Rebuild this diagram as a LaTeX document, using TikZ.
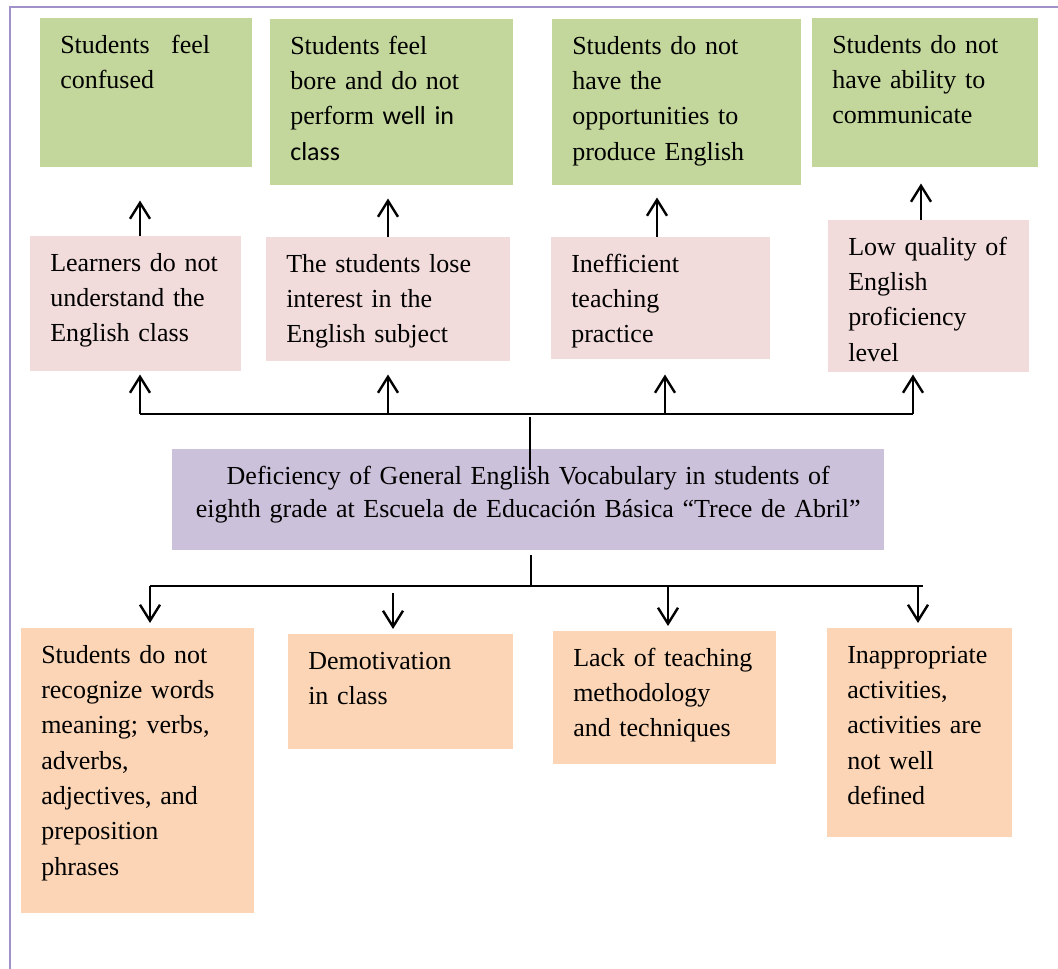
\documentclass[tikz,border=0pt]{standalone}
\usepackage{fontspec}
\setmainfont{Liberation Serif}
\newfontfamily\calibri{Carlito}
\usetikzlibrary{arrows.meta}
\definecolor{ccgreen}{RGB}{195,214,155}
\definecolor{ccpink}{RGB}{242,220,219}
\definecolor{ccpurple}{RGB}{204,193,218}
\definecolor{ccorange}{RGB}{251,213,181}
\definecolor{ccframe}{RGB}{160,146,200}

\begin{document}
\begin{tikzpicture}[x=0.75pt, y=-0.75pt]

  % Style des boites et des fleches
  \tikzstyle{boite} = [anchor=north west, inner ysep=10pt, text height=16.25pt, font=\fontsize{19.5}{26.5}\selectfont]
  \tikzstyle{gauche} = [boite, align=left, inner xsep=0pt, execute at begin node={\leftskip=15pt\hyphenpenalty=10000}]
  \tikzstyle{effet} = [gauche, fill=ccgreen]
  \tikzstyle{cause} = [gauche, fill=ccpink]
  \tikzstyle{origine} = [gauche, fill=ccorange]
  \tikzstyle{probleme} = [boite, fill=ccpurple, align=center, inner xsep=10pt, font=\fontsize{19.5}{24.75}\selectfont]
  \tikzstyle{fleche} = [-{Straight Barb[length=12pt, width=15pt]}, line width=1.8pt]
  \tikzstyle{trait} = [line width=1.5pt]

  \useasboundingbox (0,0) rectangle (1058,969);

  % Cadre
  \draw[ccframe, line width=1.5pt] (10,969) -- (10,7) -- (1058,7);

  % Effets
  \draw (40,18) node[effet, text width=159pt, text depth=75.5pt] (confused) {Students\hspace{16pt}feel\\confused};
  \draw (270,19) node[effet, text width=182.25pt, text depth=88.25pt] (bore) {Students feel\\bore and do not\\perform {\calibri well in}\\{\calibri class}};
  \draw (552,19) node[effet, text width=186.75pt, text depth=88.25pt] (opportunities) {Students do not\\have the\\opportunities to\\produce English};
  \draw (812,18) node[effet, text width=169.5pt, text depth=75.5pt] (communicate) {Students do not\\have ability to\\communicate};

  % Causes directes
  \draw (30,236) node[cause, text width=158.25pt, text depth=65pt] (understand) {Learners do not\\understand the\\English class};
  \draw (266,237) node[cause, text width=183pt, text depth=56.75pt] (interest) {The students lose\\interest in the\\English subject};
  \draw (551,237) node[cause, text width=164.25pt, text depth=55.25pt] (practice) {Inefficient\\teaching\\practice};
  \draw (828,220) node[cause, text width=150.75pt, text depth=77.75pt] (quality) {Low quality of\\English\\proficiency\\level};

  % Probleme central
  \draw (172,449) node[probleme, text width=514pt, text depth=39.5pt] (deficiency) {Deficiency of General English Vocabulary in students of\\eighth grade at Escuela de Educación Básica “Trece de Abril”};

  % Origines
  \draw (21,628) node[origine, text width=174.75pt, text depth=177.5pt] (meaning) {Students do not\\recognize words\\meaning; verbs,\\adverbs,\\adjectives, and\\preposition\\phrases};
  \draw (288,634) node[origine, text width=168.75pt, text depth=50pt] (demotivation) {Demotivation\\in class};
  \draw (553,631) node[origine, text width=167.25pt, text depth=63.5pt] (methodology) {Lack of teaching\\methodology\\and techniques};
  \draw (827,628) node[origine, text width=138.75pt, text depth=120.5pt] (activities) {Inappropriate\\activities,\\activities are\\not well\\defined};

  % Causes -> effets
  \foreach \x/\a/\b/\gap in {140/understand/confused/24.75pt, 388/interest/bore/9.75pt, 657/practice/opportunities/9pt, 921/quality/communicate/12pt}
    \draw[fleche, shorten >=\gap] (\x,0 |- \a.north) -- (\x,0 |- \b.south);

  % Barre du haut
  \coordinate (hautG) at (140,414);
  \coordinate (hautD) at (913,414);
  \coordinate (hautM) at (530,414);
  \draw[trait] (hautG) -- (hautD);
  \draw[trait, shorten <=2.25pt, shorten >=-15.75pt] (hautM) -- (hautM |- deficiency.north);
  \foreach \x/\a/\gap in {140/understand/2.25pt, 388/interest/9.75pt, 665/practice/11.25pt, 913/quality/1.5pt}
    \draw[fleche, shorten >=\gap] (\x,414) -- (\x,0 |- \a.south);

  % Barre du bas
  \coordinate (basG) at (150,586);
  \coordinate (basD) at (923,586);
  \coordinate (basM) at (531,586);
  \draw[trait] (basG) -- (basD);
  \draw[trait, shorten >=3pt] (basM) -- (basM |- deficiency.south);
  \foreach \x/\a/\debut in {150/meaning/0pt, 393/demotivation/5.25pt, 668/methodology/0pt, 918/activities/0pt}
    \draw[fleche, shorten <=\debut, shorten >=3.75pt] (\x,586) -- (\x,0 |- \a.north);

\end{tikzpicture}
\end{document}
